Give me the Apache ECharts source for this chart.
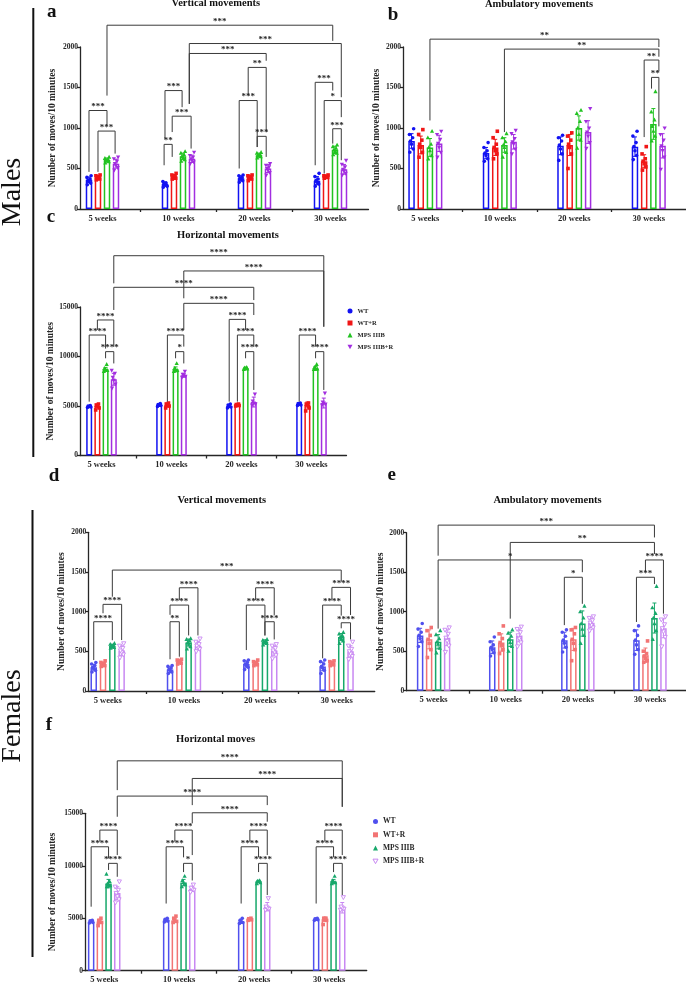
<!DOCTYPE html>
<html><head><meta charset="utf-8">
<script src="https://cdn.jsdelivr.net/npm/echarts@6/dist/echarts.min.js"></script>
<style>html,body{margin:0;padding:0;background:#fff}#c{width:686px;height:988px}</style>
</head><body><div id="c"></div>
<script>
const weeks = ['5 weeks','10 weeks','20 weeks','30 weeks'];
const groups = ['WT','WT+R','MPS IIIB','MPS IIIB+R'];
const yName = 'Number of moves/10 minutes';

// ---------- Panel a: Males, Vertical movements ----------
const aMeans = [[360,310,380,350],[390,400,390,400],[605,650,665,730],[560,620,500,490]];
const aErr = [[35,25,30,50],[20,25,25,15],[25,40,25,45],[55,45,50,60]];
const aPts = [
 [[300,320,340,350,370,390,410],[270,290,300,310,320,340,280],[330,350,370,380,390,410,420],[280,310,330,350,370,400,440]],
 [[360,370,380,390,400,410,420],[370,380,390,400,410,420,440],[350,370,380,390,400,410,420],[380,390,395,400,405,410,420]],
 [[570,585,595,605,615,625,640],[590,610,630,650,670,690,710],[630,645,655,665,675,690,700],[670,690,710,730,750,770,790]],
 [[480,510,540,560,590,620,640],[560,580,600,620,640,660,700],[420,450,480,500,520,540,560],[420,440,470,490,520,550,600]]
];
const aBrk = [
 [0,2,3,1.75,2269,1400,2076,'***'],[1,2.7,3,2.7,2043,1298,1380,'***'],[1,2.7,2,2.8,1920,1298,1830,'***'],
 [0,0,0,2,1216,458,1032,'***'],[0,1,0,2.9,962,458,684,'***'],
 [1,0,1,1.9,1462,868,1257,'***'],[1,0.8,1,2.9,1146,950,746,'***'],[1,-0.1,1,0.8,798,540,643,'**'],
 [2,0.8,2,2.8,1748,1400,950,'**'],[2,-0.2,2,1.8,1339,500,765,'***'],[2,1.8,2,2.8,897,765,643,'***'],
 [3,-0.2,3,1.75,1564,540,1462,'***'],[3,0.8,3,2.7,1339,438,1134,'*'],[3,1.75,3,2.7,991,807,602,'***']
];

// ---------- Panel b: Males, Ambulatory movements ----------
const bMeans = [[840,690,780,770],[790,760,790,590],[760,790,1000,1050],[810,830,950,780]];
const bErr = [[90,70,110,120],[110,100,130,80],[110,90,150,190],[100,90,140,150]];
const bPts = [
 [[700,740,800,840,880,920,990],[590,620,660,690,720,760,820],[600,680,740,790,840,880,910],[610,660,720,770,820,900,960]],
 [[640,700,760,800,850,920,980],[620,680,720,760,800,880,960],[500,680,760,800,850,900,940],[480,520,560,590,620,680,770]],
 [[620,660,720,760,800,880,960],[640,700,760,790,830,880,930],[750,850,920,1000,1080,1180,1220],[840,900,960,1020,1100,1200,1450]],
 [[640,700,760,810,860,920,960],[680,740,800,830,870,930,970],[750,820,900,950,1000,1080,1240],[490,640,720,780,850,920,1000]]
];
const bBrk = [
 [0,2,3,2.6,2097,1093,2000,'**'],[1,2,3,2.6,1974,950,1880,'**'],
 [3,1,3,2.6,1839,888,1700,'**'],[3,1.8,3,2.6,1625,1486,1020,'**']
];

// ---------- Panel c: Males, Horizontal movements ----------
const cMeans = [[4950,5100,5000,5200],[5000,5100,5100,5100],[8700,8700,8800,8800],[7700,8100,5400,5300]];
const cErr = [[100,150,150,100],[200,200,100,300],[200,250,100,200],[600,200,500,500]];
const cPts = [
 [[4850,4900,4950,5000,5050],[4950,5050,5100,5150,5250],[4800,4900,5000,5100,5200],[5050,5100,5200,5250,5300]],
 [[4600,4800,5000,5100,5200],[4800,5000,5100,5200,5300],[5000,5050,5100,5150,5200],[4500,4800,5100,5200,5300]],
 [[8500,8600,8700,8800,9200],[8500,8600,8700,8800,9300],[8700,8750,8800,8850,8900],[8700,8750,8800,8900,9200]],
 [[6800,7200,7600,7900,8300,8600],[7900,8000,8100,8200,8500],[5100,5200,5300,5500,6200],[5100,5200,5300,5400,6300]]
];
const cBrk = [
 [0,3,3,3,20180,17390,13010,'****'],[1,3,3,3,18640,15880,13010,'****'],
 [0,3,2,3,16990,14700,15700,'****'],[1,3,2,3,15370,12680,14190,'****'],
 [0,1,0,3,13690,12680,11000,'****'],[0,0,0,2,12170,5440,10800,'****'],[0,2,0,3,10490,9820,9300,'****'],
 [1,1,1,3,12170,5440,11000,'****'],[1,2,1,3,10490,9820,9300,'*'],
 [2,0,2,2,13750,5440,12680,'****'],[2,1,2,3,12170,5440,11000,'****'],[2,2,2,3,10490,9820,6620,'****'],
 [3,0,3,2,12170,5440,11000,'****'],[3,2,3,3,10490,9820,6620,'****']
];

// ---------- Panel d: Females, Vertical movements ----------
const dMeans = [[300,270,340,310],[340,370,350,350],[570,610,620,680],[510,570,510,500]];
const dErr = [[35,35,40,55],[20,20,20,20],[20,45,25,45],[60,55,60,70]];
const dPts = [
 [[240,260,280,300,320,340,360],[220,240,260,270,290,310,320],[270,300,320,340,360,380,390],[220,260,290,310,340,370,390]],
 [[310,320,330,340,350,360,380],[340,350,360,370,380,390,400],[320,330,340,350,360,370,390],[320,330,340,350,360,370,380]],
 [[540,550,560,570,580,590,600],[530,560,590,610,630,650,660],[580,600,610,620,630,640,650],[600,630,660,680,700,720,740]],
 [[420,460,490,510,540,570,600],[500,530,550,570,590,620,660],[410,450,490,510,540,570,590],[400,440,470,500,530,570,620]]
];
const dBrk = [
 [0,2,3,2,1524,1188,1377,'***'],
 [0,1,0,3,1092,980,642,'****'],[0,0,0,2,873,390,640,'****'],
 [1,1,1,3,1301,1146,700,'****'],[1,0,1,2,1083,960,700,'****'],[1,0,1,1,873,400,432,'**'],
 [2,1,2,3,1301,1146,958,'****'],[2,0,2,2,1083,516,700,'****'],[2,2,2,3,873,700,650,'****'],
 [3,1,3,3,1306,1146,958,'****'],[3,0,3,2,1083,412,950,'****'],[3,2,3,3,860,790,650,'****']
];

// ---------- Panel e: Females, Ambulatory movements ----------
const eMeans = [[700,550,640,640],[650,610,650,450],[620,650,850,920],[670,700,860,790]];
const eErr = [[90,80,100,130],[120,110,140,90],[90,90,160,190],[100,80,60,120]];
const ePts = [
 [[560,620,660,700,740,780,850],[440,480,520,550,580,620,680],[490,550,600,640,690,740,770],[460,520,580,640,700,760,820]],
 [[420,520,600,650,700,760,800],[470,520,570,610,660,720,820],[380,520,600,650,720,770,800],[360,380,410,440,470,500,630]],
 [[480,540,590,620,660,710,760],[500,560,610,650,690,730,770],[600,700,780,850,920,1000,1070],[650,760,850,920,980,1050,1320]],
 [[490,570,630,670,720,770,800],[560,610,660,700,740,780,810],[760,800,830,860,890,920,940],[560,680,750,790,840,900,940]]
];
const eBrk = [
 [0,2,3,2,2096,1709,1940,'***'],[1,2,3,2,1877,912,1730,'**'],[0,2,2,2,1655,786,1500,'*'],
 [2,0,2,2,1436,830,1100,'*'],[3,1,3,3,1655,1500,975,'****'],[3,0,3,2,1436,870,1350,'***']
];

// ---------- Panel f: Females, Horizontal moves ----------
const fMeans = [[4700,4800,4700,4900],[4700,4800,4900,4900],[8300,8400,8500,8500],[7400,7800,6100,6000]];
const fErr = [[100,150,200,100],[200,200,100,200],[400,300,100,200],[600,250,400,500]];
const fPts = [
 [[4550,4600,4700,4750,4800],[4650,4750,4800,4900,5000],[4500,4600,4700,4800,5000],[4800,4850,4900,4950,5000]],
 [[4300,4600,4700,4800,5000],[4600,4700,4800,5000,5200],[4800,4850,4900,4950,5000],[4400,4800,4900,5000,5000]],
 [[8000,8100,8200,8300,8500,9200],[8000,8200,8400,8600,9000],[8300,8400,8500,8550,8600],[8300,8400,8500,8600,9000]],
 [[6500,6800,7100,7400,7700,8000,8500],[7500,7700,7800,7900,8200],[5800,5900,6000,6100,6900],[5800,5900,6000,6100,7000]]
];
const fBrk = [
 [0,3,3,3,20000,17210,15620,'****'],[1,3,3,3,18320,15780,15620,'****'],
 [0,3,2,3,16640,14670,15780,'****'],[1,3,2,3,15050,14040,14200,'****'],
 [0,1,0,3,13400,12290,11020,'****'],[0,0,0,2,11810,6100,10700,'****'],[0,2,0,3,10230,9600,8950,'****'],
 [1,1,1,3,13400,12290,11020,'****'],[1,0,1,2,11810,6400,10800,'****'],[1,2,1,3,10230,9400,8600,'*'],
 [2,1,2,3,13400,12290,11020,'****'],[2,0,2,2,11810,6400,10800,'****'],[2,2,2,3,10230,9400,7210,'****'],
 [3,1,3,3,13400,12290,11020,'****'],[3,0,3,2,11810,6400,10800,'****'],[3,2,3,3,10230,9400,7210,'****']
];

// ---------- styling / layout ----------
const SERIF = '"Liberation Serif","Times New Roman",serif';
const INK = '#262626';
const maleC = ['#1212f2','#f01616','#22c322','#a22ee0'];
const femC  = ['#5050ee','#f27474','#17a86b','#c888f2'];

const panels = [
 {key:'a', left:80,    top:47,    y0:209,   xMin:-0.296, xMax:3.5, cat:76,   barW:6.5, pitch:9,   yMax:2000,  step:500,  nameGap:22, means:aMeans, err:aErr, pts:aPts, brk:aBrk, col:maleC, fem:false},
 {key:'b', left:403,   top:47,    y0:209,   xMin:-0.30,  xMax:3.5, cat:76.5, barW:6.5, pitch:9.2, yMax:2000,  step:500,  nameGap:21, means:bMeans, err:bErr, pts:bPts, brk:bBrk, col:maleC, fem:false},
 {key:'c', left:80,    top:307,   y0:455.5, xMin:-0.307, xMax:3.5, cat:70,   barW:6,   pitch:8.2, yMax:15000, step:5000, nameGap:24, means:cMeans, err:cErr, pts:cPts, brk:cBrk, col:maleC, fem:false},
 {key:'d', left:88.3,  top:532.3, y0:691,   xMin:-0.254, xMax:3.5, cat:76.3, barW:6.5, pitch:9.3, yMax:2000,  step:500,  nameGap:22, means:dMeans, err:dErr, pts:dPts, brk:dBrk, col:femC, fem:true},
 {key:'e', left:406.3, top:532.7, y0:690.7, xMin:-0.379, xMax:3.5, cat:75.7, barW:6.5, pitch:9,   yMax:2000,  step:500,  nameGap:12, means:eMeans, err:eErr, pts:ePts, brk:eBrk, col:femC, fem:true},
 {key:'f', left:85,    top:813.3, y0:970.7, xMin:-0.256, xMax:3.5, cat:75,   barW:6.5, pitch:8.7, yMax:15000, step:5000, nameGap:27, means:fMeans, err:fErr, pts:fPts, brk:fBrk, col:femC, fem:true}
];

const jit = [-1.7, 1.7, 0, -1.1, 1.1, -2.1, 2.1];

function marker(g, x, y, color, fem) {
  const s = 1.8;
  if (g === 0) return {type:'circle', shape:{cx:x, cy:y, r:s}, style:{fill:color}};
  if (g === 1) return {type:'rect', shape:{x:x-s, y:y-s, width:2*s, height:2*s}, style:{fill:color}};
  if (g === 2) return {type:'polygon', shape:{points:[[x,y-2.3],[x-2.1,y+1.6],[x+2.1,y+1.6]]}, style:{fill:color}};
  return {type:'polygon', shape:{points:[[x,y+2.3],[x-2.1,y-1.6],[x+2.1,y-1.6]]},
          style: fem ? {fill:'#fff', stroke:color, lineWidth:0.9} : {fill:color}};
}

const grids = [], xAxes = [], yAxes = [], series = [];
panels.forEach((P, i) => {
  grids.push({left:P.left, top:P.top, width:(P.xMax-P.xMin)*P.cat, height:P.y0-P.top, containLabel:false});
  xAxes.push({gridIndex:i, type:'value', min:P.xMin, max:P.xMax,
    axisLine:{show:true, onZero:false, lineStyle:{color:INK, width:1.3}},
    axisTick:{show:true, customValues:[0.5,1.5,2.5], length:3, lineStyle:{color:INK, width:1.3}},
    axisLabel:{customValues:[0,1,2,3], formatter:v => weeks[Math.round(v)], margin:5,
      fontFamily:SERIF, fontWeight:'bold', fontSize:8.5, color:INK},
    splitLine:{show:false}});
  yAxes.push({gridIndex:i, type:'value', min:0, max:P.yMax, interval:P.step,
    axisLine:{show:true, onZero:false, lineStyle:{color:INK, width:1.3}},
    axisTick:{show:true, length:3, lineStyle:{color:INK, width:1.3}},
    axisLabel:{fontFamily:SERIF, fontWeight:'bold', fontSize:7.5, color:INK, margin:2, formatter:v => String(v)},
    splitLine:{show:false},
    name:yName, nameLocation:'middle', nameGap:P.nameGap,
    nameTextStyle:{fontFamily:SERIF, fontWeight:'bold', fontSize:9.5, color:INK}});
  const gapPct = ((P.pitch - P.barW) / P.barW * 100).toFixed(1) + '%';
  groups.forEach((gName, g) => {
    series.push({type:'bar', name:gName, xAxisIndex:i, yAxisIndex:i, silent:true, animation:false,
      data:P.means[g].map((v, w) => [w, v]), barWidth:P.barW, barGap:gapPct, z:2,
      itemStyle:{color:'#ffffff', borderColor:P.col[g], borderWidth:1.5}});
  });
  const errData = [];
  for (let g = 0; g < 4; g++) for (let w = 0; w < 4; w++) errData.push([w, P.means[g][w], g, P.err[g][w]]);
  series.push({type:'custom', xAxisIndex:i, yAxisIndex:i, silent:true, animation:false, clip:false, z:3,
    encode:{x:0, y:1}, data:errData,
    renderItem:(params, api) => {
      const w = api.value(0), m = api.value(1), g = api.value(2), e = api.value(3);
      const hi = api.coord([w, m + e]), lo = api.coord([w, m - e]);
      const x = hi[0] + (g - 1.5) * P.pitch;
      const st = {stroke:P.col[g], lineWidth:1};
      return {type:'group', children:[
        {type:'line', shape:{x1:x, y1:hi[1], x2:x, y2:lo[1]}, style:st},
        {type:'line', shape:{x1:x-2, y1:hi[1], x2:x+2, y2:hi[1]}, style:st},
        {type:'line', shape:{x1:x-2, y1:lo[1], x2:x+2, y2:lo[1]}, style:st}]};
    }});
  const ptData = [];
  for (let g = 0; g < 4; g++) for (let w = 0; w < 4; w++)
    P.pts[g][w].forEach((v, k) => ptData.push([w, v, g, k]));
  series.push({type:'custom', xAxisIndex:i, yAxisIndex:i, silent:true, animation:false, clip:false, z:4,
    encode:{x:0, y:1}, data:ptData,
    renderItem:(params, api) => {
      const w = api.value(0), v = api.value(1), g = api.value(2), k = api.value(3);
      const p = api.coord([w, v]);
      return marker(g, p[0] + (g - 1.5) * P.pitch + jit[k % 7], p[1], P.col[g], P.fem);
    }});
  series.push({type:'custom', xAxisIndex:i, yAxisIndex:i, silent:true, animation:false, clip:false, z:5,
    encode:{x:0, y:4}, data:P.brk.map(b => b.slice(0, 7)),
    renderItem:(params, api) => {
      const b = P.brk[params.dataIndex];
      const x1 = api.coord([b[0], 0])[0] + (b[1] - 1.5) * P.pitch;
      const x2 = api.coord([b[2], 0])[0] + (b[3] - 1.5) * P.pitch;
      const yl = api.coord([0, b[4]])[1], ya = api.coord([0, b[5]])[1], yb = api.coord([0, b[6]])[1];
      return {type:'group', children:[
        {type:'polyline', shape:{points:[[x1, ya], [x1, yl], [x2, yl], [x2, yb]]},
          style:{stroke:'#3a3a3a', lineWidth:1, fill:null}},
        {type:'text', x:(x1 + x2) / 2, y:yl + 1,
          style:{text:b[7], font:'bold 9px ' + SERIF, fill:INK, align:'center', verticalAlign:'bottom'}}]};
    }});
});

function legendFor(colors, fem, left, top, gap, size) {
  return {orient:'vertical', left:left, top:top, itemGap:gap, itemWidth:5, itemHeight:5,
    selectedMode:false,
    textStyle:{fontFamily:SERIF, fontWeight:'bold', fontSize:size, color:INK, lineHeight:9},
    data:[
      {name:'WT', icon:'circle', itemStyle:{color:colors[0], borderWidth:0}},
      {name:'WT+R', icon:'rect', itemStyle:{color:colors[1], borderWidth:0}},
      {name:'MPS IIIB', icon:'triangle', itemStyle:{color:colors[2], borderWidth:0}},
      {name:'MPS IIIB+R', icon:'path://M0,0L10,0L5,9Z',
        itemStyle: fem ? {color:'#ffffff', borderColor:colors[3], borderWidth:1} : {color:colors[3], borderWidth:0}}
    ]};
}

function txt(text, x, y, size, weight, rot) {
  return {type:'text', x:x, y:y, rotation:rot || 0, silent:true,
    style:{text:text, font:(weight || 'normal') + ' ' + size + 'px ' + SERIF, fill:'#111', align:'center', verticalAlign:'middle'}};
}

const graphics = [
  txt('Vertical movements', 215.8, 3.6, 10.5, 'bold'),
  txt('Ambulatory movements', 539, 3.8, 10.5, 'bold'),
  txt('Horizontal movements', 228, 235.4, 10.5, 'bold'),
  txt('Vertical movements', 221.7, 500.4, 10.5, 'bold'),
  txt('Ambulatory movements', 547.5, 500.4, 10.5, 'bold'),
  txt('Horizontal moves', 215.5, 739.4, 10.5, 'bold'),
  txt('a', 51.7, 12, 19, 'bold'),
  txt('b', 393, 15.3, 19, 'bold'),
  txt('c', 51, 217, 19, 'bold'),
  txt('d', 54, 476.3, 19, 'bold'),
  txt('e', 391.8, 475.3, 19, 'bold'),
  txt('f', 49, 725.3, 19, 'bold'),
  txt('Males', 12.5, 192, 28, 'normal', Math.PI / 2),
  txt('Females', 12.5, 716, 28, 'normal', Math.PI / 2),
  {type:'line', silent:true, shape:{x1:33.3, y1:8, x2:33.3, y2:457}, style:{stroke:'#111', lineWidth:2}},
  {type:'line', silent:true, shape:{x1:32.5, y1:510, x2:32.5, y2:957}, style:{stroke:'#111', lineWidth:2}}
];

const chart = echarts.init(document.getElementById('c'), null, {renderer:'canvas'});
chart.setOption({
  animation:false,
  backgroundColor:'#ffffff',
  textStyle:{fontFamily:SERIF},
  grid:grids, xAxis:xAxes, yAxis:yAxes, series:series,
  legend:[legendFor(maleC, false, 342.5, 301.5, 3, 6.5), legendFor(femC, true, 367.5, 812, 4.3, 7.5)],
  graphic:graphics
});
</script></body></html>
